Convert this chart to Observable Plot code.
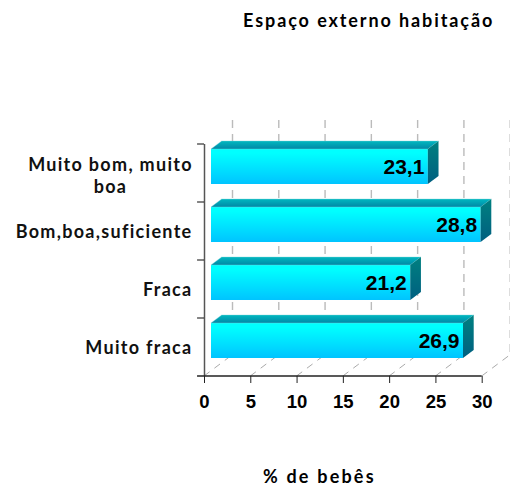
<!DOCTYPE html>
<html>
<head>
<meta charset="utf-8">
<script src="https://cdn.jsdelivr.net/npm/d3@7"></script>
<script src="https://cdn.jsdelivr.net/npm/@observablehq/plot@0.6"></script>
<style>
html,body{margin:0;padding:0;background:#fff}
svg{display:block;overflow:visible}
.cat text{letter-spacing:1.3px}
.ttl text{letter-spacing:1.9px}
.xl text{letter-spacing:2.2px}
</style>
</head>
<body>
<div id="chart"></div>
<script>
const categories = ["Muito bom, muito\nboa", "Bom,boa,suficiente", "Fraca", "Muito fraca"];
const values = [23.1, 28.8, 21.2, 26.9];
const valueLabels = ["23,1", "28,8", "21,2", "26,9"];
const xTicks = [0, 5, 10, 15, 20, 25, 30];
const title = "Espaço externo habitação";
const xLabel = "% de bebês";

const rows = categories.map((c, i) => ({c, v: values[i], t: valueLabels[i]}));
const face = '"Lato","Liberation Sans",sans-serif';
const num = '"Liberation Sans",Arial,sans-serif';
const offX = 10, offY = -6, topX = 10.7, topY = 8, wallX = 28, wallY = 21;

const defs = () => d3.create("svg:defs").html(`
<linearGradient id="front" x1="0" x2="0" y1="0" y2="1"><stop offset="0.12" stop-color="#00ffff"/><stop offset="1" stop-color="#00c4ff"/></linearGradient>
<linearGradient id="topf" x1="0" x2="0" y1="0" y2="1"><stop offset="0" stop-color="#00b8c0"/><stop offset="1" stop-color="#0088a6"/></linearGradient>
<linearGradient id="side" x1="0" x2="0" y1="0" y2="1"><stop offset="0" stop-color="#008080"/><stop offset="1" stop-color="#005f80"/></linearGradient>
`).node();

function faces(index, scales, vals, dims, ctx, next) {
  const g = next(index, scales, vals, dims, ctx);
  const sel = d3.select(g);
  const bw = scales.y.bandwidth();
  const left = scales.x(0) - 3;
  for (const r of rows) {
    const xr = scales.x(r.v);
    const yt = scales.y(r.c);
    sel.append("polygon").attr("fill", "url(#topf)").attr("stroke", "#7fd4dc").attr("stroke-width", 0.4)
      .attr("points", [[left, yt], [left + topX, yt - topY], [xr + topX, yt - topY], [xr, yt]].join(" "));
    sel.append("polygon").attr("fill", "url(#side)")
      .attr("points", [[xr, yt], [xr + topX, yt - topY], [xr + topX, yt + bw - topY], [xr, yt + bw]].join(" "));
  }
  return g;
}

function floorLines(index, scales, vals, dims, ctx) {
  const g = d3.create("svg:g");
  const y0 = dims.height - dims.marginBottom;
  for (const t of xTicks) {
    g.append("line").attr("x1", scales.x(t)).attr("y1", y0)
      .attr("x2", scales.x(t) + wallX).attr("y2", y0 - wallY)
      .attr("stroke", "#aaa").attr("stroke-width", 1).attr("stroke-dasharray", "7,6");
  }
  return g.node();
}

const plot = Plot.plot({
  width: 510,
  height: 486,
  marginLeft: 204,
  marginRight: 28.3,
  marginTop: 144,
  marginBottom: 110,
  style: {background: "#fff", overflow: "visible"},
  x: {domain: [0, 30], ticks: xTicks, label: null},
  y: {domain: categories, paddingInner: 0.39, paddingOuter: 0.195, axis: null, label: null},
  marks: [
    defs,
    Plot.ruleX(xTicks, {x: d => d, dx: wallX, dy: -wallY, insetTop: -3, stroke: "#bbb", strokeWidth: 1.4, strokeDasharray: "8,6"}),
    Plot.ruleX(xTicks, {x: d => d, render: floorLines}),
    Plot.ruleX([0], {stroke: "#555", strokeWidth: 1.5}),
    Plot.ruleY(categories, {y: d => d, x1: -0.75, x2: 0, dy: -29, stroke: "#333", strokeWidth: 1.2}),
    Plot.ruleY(categories.slice(-1), {y: d => d, x1: -0.75, x2: 30, dy: 29, stroke: "#222", strokeWidth: 1.5}),
    Plot.axisX({ticks: xTicks, tickSize: 7, tickPadding: 11, stroke: "#222", fontSize: 18.5, fontWeight: "bold", fontFamily: num, fill: "#000", label: null, tickFormat: d => String(d)}),
    Plot.barX(rows, {x: "v", y: "c", fill: "url(#front)", dx: offX, dy: offY, insetLeft: -3, render: faces}),
    Plot.text(rows, {x: "v", y: "c", text: "t", textAnchor: "end", dx: 6, dy: -6, fontSize: 21, fontWeight: "bold", fontFamily: num, fill: "#000"}),
    Plot.text(categories.filter(c => !c.includes("\n")), {y: d => d, x: 0, text: d => d, textAnchor: "end", dx: -12, dy: 1, fontSize: 18, fontWeight: "bold", fontFamily: face, fill: "#111", className: "cat"}),
    Plot.text(categories.filter(c => c.includes("\n")), {y: d => d, x: 0, text: d => d, textAnchor: "middle", dx: -94, dy: 2, lineHeight: 1.2, fontSize: 18, fontWeight: "bold", fontFamily: face, fill: "#111", className: "cat"}),
    Plot.text([title], {text: d => d, frameAnchor: "top-right", textAnchor: "end", dx: 12, dy: -130, fontSize: 18, fontWeight: "bold", fontFamily: face, fill: "#000", className: "ttl"}),
    Plot.text([xLabel], {text: d => d, frameAnchor: "bottom", dx: -24, dy: 106, fontSize: 18, fontWeight: "bold", fontFamily: face, fill: "#000", className: "xl"})
  ]
});
document.getElementById("chart").append(plot);
</script>
</body>
</html>
